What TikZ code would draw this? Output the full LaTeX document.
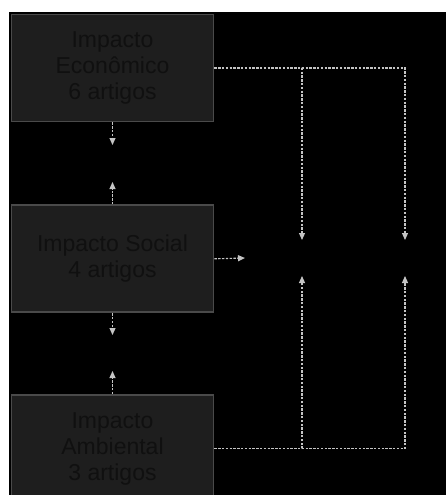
\documentclass[tikz,border=0pt]{standalone}
\usepackage{fontspec}
\setmainfont{Liberation Sans}
\usetikzlibrary{arrows.meta, positioning}
\definecolor{boxfill}{HTML}{1E1E1E}
\definecolor{boxline}{HTML}{4A4A4A}
\definecolor{boxtext}{HTML}{101010}
\definecolor{connline}{HTML}{C4C4C4}

\begin{document}
\begin{tikzpicture}[x=1pt, y=1pt,
  impacto/.style={draw=boxline, line width=1.8pt, fill=boxfill, text=boxtext,
    minimum width=202pt, minimum height=107pt, align=center,
    font=\fontsize{23}{26}\selectfont, inner sep=0pt},
  conn/.style={draw=connline, line width=1.1pt, dash pattern=on 2.4pt off 1.4pt},
  arr/.style={conn, -{Triangle[length=7pt, width=6pt]}}
]
% fundo
\useasboundingbox (0,0) rectangle (446,-495);
\fill[white] (0,0) rectangle (446,-495);
\fill[black] (9,-12) rectangle (446,-495);

\node[impacto] (econ) at (112.5,-68) {Impacto\\Econômico\\6 artigos};
\node[impacto, below=82pt of econ] (social) {Impacto Social\\4 artigos};
\node[impacto, below=81pt of social] (amb) {Impacto\\Ambiental\\3 artigos};

% pontas soltas
\coordinate (econbaixo) at (112.5,-145);
\coordinate (socialcima) at (112.5,-182);
\coordinate (socialbaixo) at (112.5,-335);
\coordinate (ambcima) at (112.5,-371);
\coordinate (socialdir) at (245,-258);
\coordinate (topoA) at (302,-240);
\coordinate (topoB) at (405,-240);
\coordinate (baseA) at (302,-276);
\coordinate (baseB) at (405,-276);

\draw[arr] (econ.south) -- (econbaixo);
\draw[arr] (social.north) -- (socialcima);
\draw[arr] (social.south) -- (socialbaixo);
\draw[arr] (amb.north) -- (ambcima);
\draw[arr] (social.east) -- (socialdir);

\draw[arr] (econ.east) -| (topoA);
\draw[arr] (econ.east) -| (topoB);
\draw[arr] (amb.east) -| (baseA);
\draw[arr] (amb.east) -| (baseB);
\end{tikzpicture}
\end{document}
